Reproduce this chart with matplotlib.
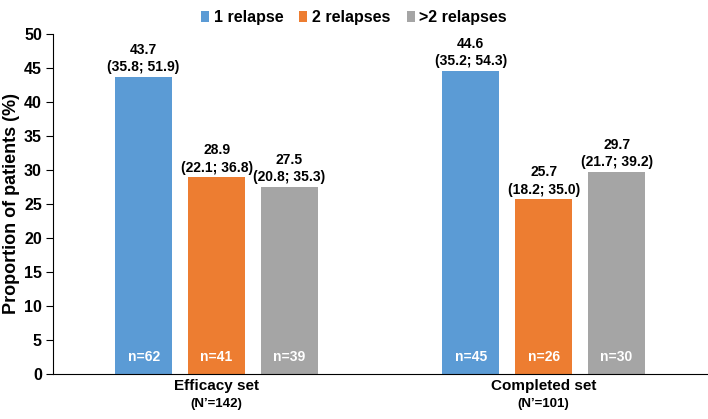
import matplotlib.pyplot as plt
import numpy as np

plt.rcParams['font.family'] = ['Liberation Sans', 'DejaVu Sans']
plt.rcParams['font.weight'] = 'bold'
plt.rcParams['axes.labelweight'] = 'bold'

groups = ["Efficacy set", "Completed set"]
group_n = ["(N\u2019=142)", "(N\u2019=101)"]
series = ["1 relapse", "2 relapses", ">2 relapses"]
colors = ["#5b9bd5", "#ed7d31", "#a5a5a5"]
values = [[43.7, 44.6], [28.9, 25.7], [27.5, 29.7]]
ci_low = [[35.8, 35.2], [22.1, 18.2], [20.8, 21.7]]
ci_high = [[51.9, 54.3], [36.8, 35.0], [35.3, 39.2]]
counts = [[62, 45], [41, 26], [39, 30]]

fig = plt.figure(figsize=(7.08, 4.19), dpi=100)
ax = fig.add_axes([0.0749, 0.1074, 0.924, 0.8115])

x = np.arange(len(groups))
width = 0.174
step = 0.223
for i, name in enumerate(series):
    pos = x + (i - 1) * step
    ax.bar(pos, values[i], width, color=colors[i], label=name)
    for j in range(len(groups)):
        # value with confidence interval above the bar
        ax.text(pos[j], values[i][j] + 0.4,
                f"{values[i][j]:.1f}\n({ci_low[i][j]:.1f}; {ci_high[i][j]:.1f})",
                ha='center', va='bottom', fontsize=10, linespacing=1.3)
        # patient count inside the bar
        ax.text(pos[j], 2.5, f"n={counts[i][j]}", ha='center', va='center',
                color='white', fontsize=10)

ax.set_ylim(0, 50)
ax.set_xlim(-0.5, 1.5)
ax.set_yticks(range(0, 51, 5))
ax.tick_params(axis='y', labelsize=11.5, length=5, direction='out', pad=3)
ax.set_xticks([])
ax.set_ylabel("Proportion of patients (%)", fontsize=13, labelpad=3)
ax.spines['top'].set_visible(False)
ax.spines['right'].set_visible(False)

for j in range(len(groups)):
    ax.annotate(groups[j], xy=(x[j], 0), xycoords=('data', 'axes fraction'),
                xytext=(0, -3.5), textcoords='offset points',
                ha='center', va='top', fontsize=11)
    ax.annotate(group_n[j], xy=(x[j], 0), xycoords=('data', 'axes fraction'),
                xytext=(0, -17), textcoords='offset points',
                ha='center', va='top', fontsize=9.5)

handles, labels = ax.get_legend_handles_labels()
fig.legend(handles, labels, loc='upper center', bbox_to_anchor=(0.5, 1.01),
           ncol=3, frameon=False, fontsize=11.5, handlelength=0.5,
           handleheight=0.6, columnspacing=1.0, handletextpad=0.3)

fig.savefig("out.png", dpi=100)
